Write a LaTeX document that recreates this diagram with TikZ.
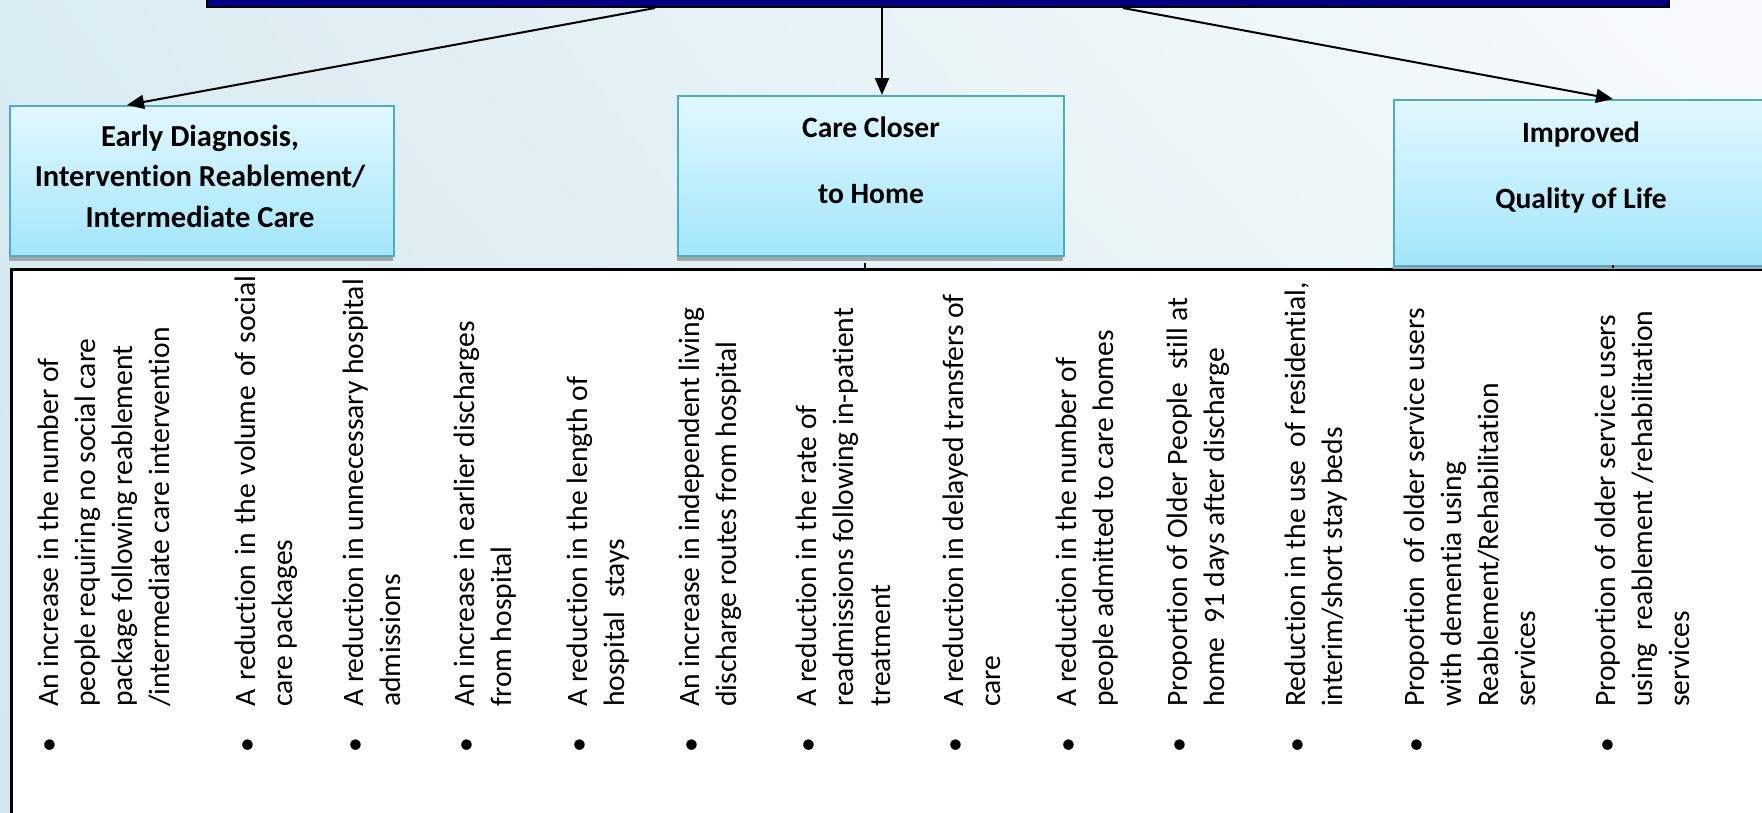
\documentclass[tikz,border=0pt]{standalone}
\usepackage{fontspec}
\setmainfont{Carlito}[Ligatures=NoCommon]
\usetikzlibrary{arrows.meta,calc,shadings}
\definecolor{bgUL}{HTML}{D9ECF2}
\definecolor{bgUR}{HTML}{F8FBFC}
\definecolor{bgLL}{HTML}{D2E7EE}
\definecolor{bgLR}{HTML}{E9F4F7}
\definecolor{boxtop}{HTML}{E2F8FE}
\definecolor{boxbot}{HTML}{A2E6FB}
\definecolor{boxline}{HTML}{4BACC6}
\definecolor{navyfill}{HTML}{000080}
\tikzset{
  goalbox/.style={draw=black, line width=2pt, fill=navyfill, inner sep=0pt},
  catbox/.style={draw=boxline, line width=2pt, top color=boxtop, bottom color=boxbot, inner sep=0pt, anchor=north west},
  cattext/.style={align=center, inner sep=0pt, font=\bfseries\fontsize{30.5}{40.5}\selectfont},
  cattextwide/.style={cattext, font=\bfseries\fontsize{29.5}{33}\selectfont},
  link/.style={draw=black, line width=2pt, -{Triangle[length=17pt,width=14pt]}},
  tablebox/.style={draw=black, line width=3pt, fill=white, inner sep=0pt},
  itemtext/.style={rotate=90, anchor=north west, inner sep=0pt, align=left, font=\fontsize{29.6}{37}\selectfont},
  itemdot/.style={rotate=90, inner sep=0pt, font=\fontsize{29.6}{37}\selectfont},
  shadowstrip/.style={fill=black!35, draw=none},
  tick/.style={draw=black, line width=1.5pt},
}
\begin{document}
\begin{tikzpicture}[x=1pt,y=-1pt]
\clip (0,0) rectangle (1762,812);
\shade[upper left=bgUL, upper right=bgUR, lower left=bgLL, lower right=bgLR] (0,0) rectangle (1762,812);

% table
\node[tablebox, minimum width=1800, minimum height=600, anchor=north west] (tbl) at (10,268) {};

% goal box
\node[goalbox, minimum width=1462, minimum height=60, anchor=south west] (goal) at (206,8) {};

% category boxes
\node[catbox, minimum width=384, minimum height=150] (edi) at (9,105) {};
\node[catbox, minimum width=386, minimum height=160] (cch) at (677,95) {};
\node[catbox, minimum width=373, minimum height=166] (iql) at (1393,99) {};

\fill[shadowstrip] (edi.south west) rectangle ++(384,4);
\fill[shadowstrip] (cch.south west) rectangle ++(386,4);
\fill[shadowstrip] (iql.south west) rectangle ++(373,2);

\node[cattext] (edit) at (200,176) {Early Diagnosis,\\Intervention Reablement/\\Intermediate Care};
\node[cattextwide] (ccht) at (871,160) {Care Closer\\[33pt]to Home};
\node[cattextwide] (iqlt) at (1581,167) {Improved\\[33pt]Quality of Life};

% connectors
\coordinate (s1) at (655,0);
\coordinate (s2) at (882,0);
\coordinate (s3) at (1123,0);
\coordinate (e1) at (127,0);
\coordinate (e3) at (1613,0);
\draw[link] (goal.south -| s1) -- (edi.north -| e1);
\draw[link] (goal.south -| s2) -- (cch.north -| s2);
\draw[link] (goal.south -| s3) -- (iql.north -| e3);

% small ticks
\coordinate (k1) at (865,0);
\draw[tick] (tbl.north -| k1) -- ++(0,-5);
\draw[tick] (tbl.north -| e3) -- ++(0,-3);

% items
\foreach \x/\n in {50/1,248/2,356/3,467/4,580/5,692/6,809/7,956/8,1069/9,1180/10,1298/11,1417/12,1608/13}{
  \node[itemdot] (b\n) at (\x+1,745) {•};
}
\node[itemtext] (i1) at (32,707) {\strut An increase in the number of\\people requiring no social care\\package following reablement\\/intermediate care intervention};
\node[itemtext] (i2) at (229,707) {\strut{\spaceskip=9pt A reduction in the volume of social}\\care packages};
\node[itemtext] (i3) at (337,707) {\strut A reduction in unnecessary hospital\\admissions};
\node[itemtext] (i4) at (448,707) {\strut An increase in earlier discharges\\from hospital};
\node[itemtext] (i5) at (561,707) {\strut A reduction in the length of\\hospital\ \ stays};
\node[itemtext] (i6) at (673,707) {\strut An increase in independent living\\discharge routes from hospital};
\node[itemtext] (i7) at (790,707) {\strut A reduction in the rate of\\readmissions following in-patient\\treatment};
\node[itemtext] (i8) at (937,707) {\strut A reduction in delayed transfers of\\care};
\node[itemtext] (i9) at (1050,707) {\strut A reduction in the number of\\people admitted to care homes};
\node[itemtext] (i10) at (1161,707) {\strut Proportion of Older People\ \ still at\\home\ \ 91 days after discharge};
\node[itemtext] (i11) at (1279,707) {\strut Reduction in the use\ \ of residential,\\interim/short stay beds};
\node[itemtext] (i12) at (1398,707) {\strut Proportion\ \ of older service users\\with dementia using\\Reablement/Rehabilitation\\services};
\node[itemtext] (i13) at (1589,707) {\strut Proportion of older service users\\using\ \ reablement /rehabilitation\\services};
\end{tikzpicture}
\end{document}
